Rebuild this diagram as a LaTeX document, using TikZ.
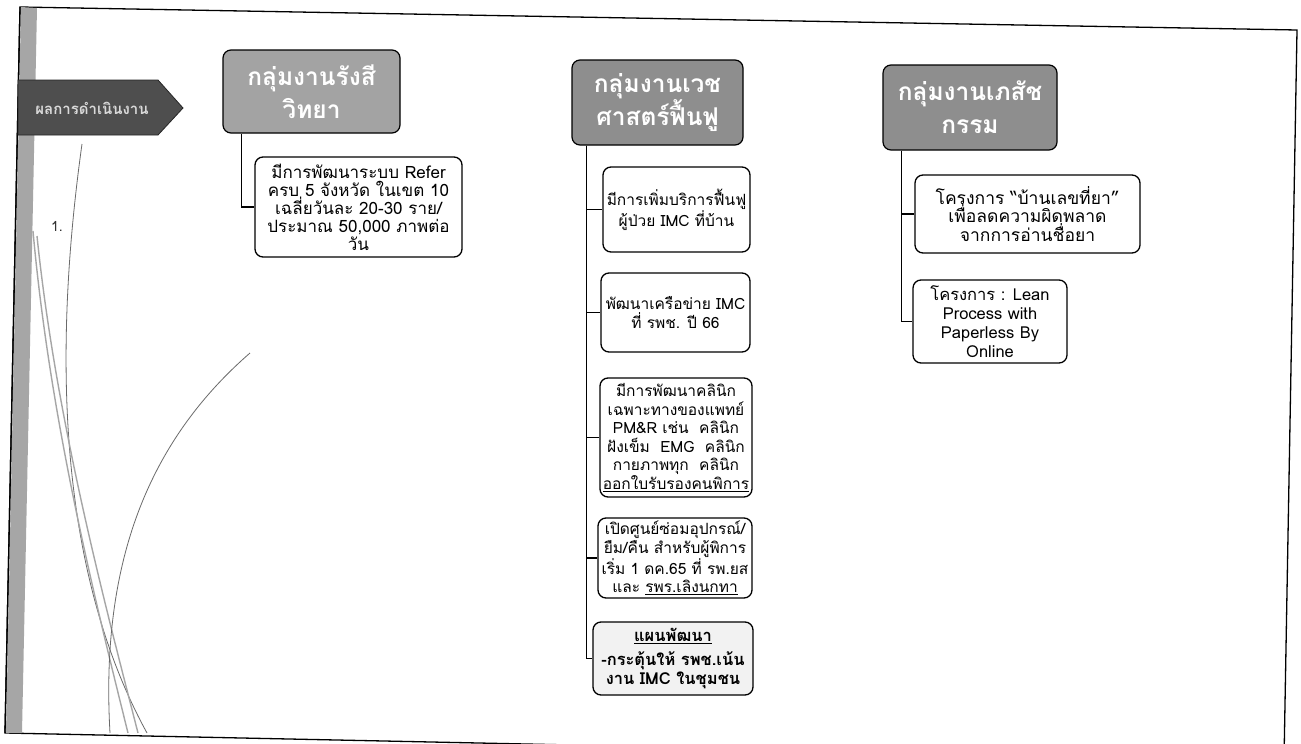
\documentclass[tikz,border=0pt]{standalone}
\usepackage{fontspec}
\setmainfont[Script=Thai]{Loma}
\usetikzlibrary{calc}
\definecolor{hdrA}{HTML}{A3A3A3}
\definecolor{hdrB}{HTML}{8E8E8E}
\definecolor{arrowgray}{HTML}{4E4E4E}
\definecolor{stripegray}{HTML}{A6A6A6}
\definecolor{curvegray}{HTML}{6A6A6A}
\tikzset{
  hdr/.style={draw=black, line width=1.2pt, rounded corners=8pt, fill=hdrA, text=white,
    font=\fontsize{24.5}{33}\selectfont\bfseries, align=center, inner sep=1pt},
  leaf/.style={draw=black, line width=1.3pt, rounded corners=8pt, fill=white, align=center,
    font=\fontsize{17}{18}\selectfont, inner sep=1pt},
  leafsm/.style={leaf, font=\fontsize{15.5}{18.5}\selectfont},
  conn/.style={draw=black, line width=1.1pt},
  deco/.style={draw=curvegray, line width=0.8pt},
  decog/.style={draw=stripegray, line width=1.4pt}
}
\begin{document}
\begin{tikzpicture}[x=1pt,y=-1pt]
\useasboundingbox (0,0) rectangle (1301,744);
\fill[white] (0,0) rectangle (1301,744);
% page frame (scanned, slightly rotated)
\begin{scope}
\clip (0,0) rectangle (1301,744);
\draw[black, line width=1.3pt] (20,7) -- (1297,30) -- (1284,760) -- (5,733) -- cycle;
\fill[stripegray] (21,7) -- (37,8) -- (22,733) -- (6,733) -- cycle;
\draw[black, line width=1.3pt] (20,7) -- (5,733);
% decorative curves
\draw[deco] (82,144) .. controls (56,330) and (52,560) .. (147,733);
\draw[decog] (33,231) .. controls (50,420) and (95,600) .. (128,733);
\draw[decog] (37,236) .. controls (56,420) and (104,600) .. (138,733);
\draw[deco] (250,353) .. controls (150,440) and (100,560) .. (110,733);
\end{scope}
% arrow tag
\fill[arrowgray, draw=black!85, line width=0.8pt] (18,80) -- (158,80) -- (183,108) -- (158,135) -- (18,135) -- cycle;
\node[text=white!85!black, font=\fontsize{15}{17}\selectfont\bfseries] (res) at (92,108) {ผลการดำเนินงาน};
\node[text=black!80, font=\fontsize{14}{16}\selectfont] (num) at (57,226) {1.};
% headers
\node[hdr, minimum width=177, minimum height=83] (h1) at (311.5,91.5) {กลุ่มงานรังสี\\วิทยา};
\node[hdr, fill=hdrB, minimum width=171, minimum height=85] (h2) at (657.5,102.5) {กลุ่มงานเวช\\ศาสตร์ฟื้นฟู};
\node[hdr, fill=hdrB, minimum width=174, minimum height=85] (h3) at (970,107.5) {กลุ่มงานเภสัช\\กรรม};
% column 1
\node[leaf, minimum width=207, minimum height=100] (b1) at (358.5,207) {มีการพัฒนาระบบ Refer\\ครบ 5 จังหวัด ในเขต 10\\เฉลี่ยวันละ 20-30 ราย/\\ประมาณ 50,000 ภาพต่อ\\วัน};
% column 2
\node[leafsm, minimum width=147, minimum height=85] (bA) at (676.5,209.5) {มีการเพิ่มบริการฟื้นฟู\\ผู้ป่วย IMC ที่บ้าน};
\node[leafsm, minimum width=149, minimum height=79] (bB) at (675.5,312.5) {พัฒนาเครือข่าย IMC\\ที่ รพช. ปี 66};
\node[leafsm, minimum width=152, minimum height=119] (bC) at (676,437.5) {มีการพัฒนาคลินิก\\เฉพาะทางของแพทย์\\PM\&R เช่น~ คลินิก\\ฝังเข็ม~ EMG~ คลินิก\\กายภาพทุก~ คลินิก\\\underline{ออกใบรับรองคนพิการ}};
\node[leafsm, minimum width=154, minimum height=80] (bD) at (675,558) {เปิดศูนย์ซ่อมอุปกรณ์/\\ยืม/คืน สำหรับผู้พิการ\\เริ่ม 1 ดค.65 ที่ รพ.ยส\\และ \underline{รพร.เลิงนกทา}};
\node[leaf, font=\fontsize{16.5}{19}\selectfont\bfseries, fill=black!5, minimum width=160, minimum height=73] (bE) at (673,658.5) {\underline{แผนพัฒนา}\\[5pt]-กระตุ้นให้ รพช.เน้น\\งาน IMC ในชุมชน};
% column 3
\node[leaf, font=\fontsize{17.5}{18.5}\selectfont, minimum width=225, minimum height=78] (bF) at (1027.5,214) {โครงการ “บ้านเลขที่ยา”\\เพื่อลดความผิดพลาด\\จากการอ่านชื่อยา};
\node[leaf, font=\fontsize{16.5}{19}\selectfont, minimum width=154, minimum height=83] (bG) at (990,321.5) {โครงการ : Lean\\Process with\\Paperless By\\Online};
% connectors
\draw[conn] (h1.south west) ++(19,0) |- (b1.west);
\draw[conn] (h2.south west) ++(15,0) |- (bA.west);
\draw[conn] (h2.south west) ++(15,0) |- (bB.west);
\draw[conn] (h2.south west) ++(15,0) |- (bC.west);
\draw[conn] (h2.south west) ++(15,0) |- (bD.west);
\draw[conn] (h2.south west) ++(15,0) |- (bE.west);
\draw[conn] (h3.south west) ++(19,0) |- (bF.west);
\draw[conn] (h3.south west) ++(19,0) |- (bG.west);
\end{tikzpicture}
\end{document}
